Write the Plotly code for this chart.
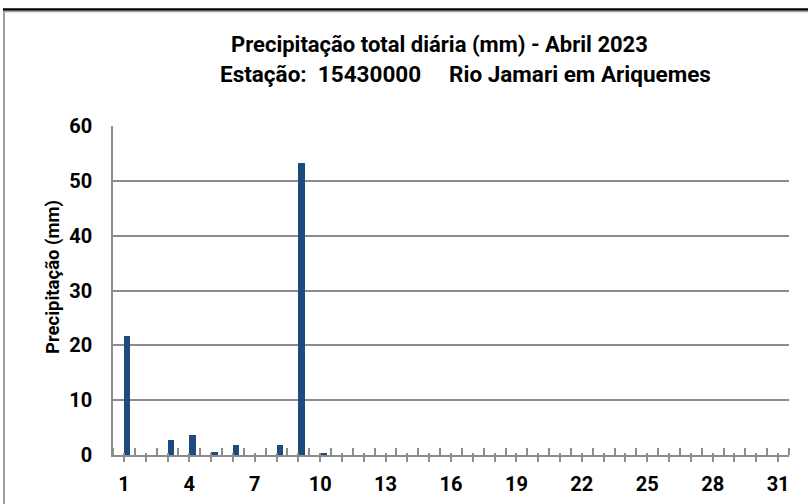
import plotly.graph_objects as go

# ---- data ----
days = list(range(1, 32))
precip_mm = [21.7, 0.0, 2.8, 3.6, 0.6, 1.8, 0.0, 1.8, 53.3, 0.2,
             0, 0, 0, 0, 0, 0, 0, 0, 0, 0,
             0, 0, 0, 0, 0, 0, 0, 0, 0, 0, 0]
x_tick_labels = [str(d) if (d - 1) % 3 == 0 else "" for d in days]
y_ticks = [0, 10, 20, 30, 40, 50, 60]

title_line1 = "Precipitação total diária (mm) - Abril 2023"
title_line2 = "Estação:&nbsp;&nbsp;15430000&nbsp;&nbsp;&nbsp;&nbsp;&nbsp;Rio Jamari em Ariquemes"
y_title = "Precipitação (mm)"

# ---- geometry (pixels) ----
W, H = 808, 504
L, R, T, B = 113, 19, 126, 49
PW, PH = W - L - R, H - T - B

def px_x(x):
    return (x - L) / PW

def px_y(y):
    return (H - B - y) / PH

FONT = "Roboto, 'Liberation Sans', Arial, sans-serif"
GRID = "#8c8c8c"
BAR = "#1F4A7E"

fig = go.Figure()
fig.add_trace(go.Bar(
    x=days, y=precip_mm, offset=0, width=0.3,
    marker=dict(color=BAR, line=dict(width=0)),
    showlegend=False,
))
# overlay axis to make the major x ticks cross the axis line
fig.add_trace(go.Scatter(x=[days[0]], y=[0], xaxis="x2", mode="markers",
                         marker=dict(opacity=0), showlegend=False, hoverinfo="skip"))

fig.update_layout(
    width=W, height=H,
    margin=dict(l=L, r=R, t=T, b=B, autoexpand=False),
    paper_bgcolor="white", plot_bgcolor="white",
    font=dict(family=FONT, color="black"),
    bargap=0,
    xaxis=dict(
        range=[0.5, 31.5], tickmode="array", tickvals=days, ticktext=x_tick_labels,
        ticks="outside", ticklen=5, tickwidth=1.5, tickcolor=GRID,
        showline=True, linecolor=GRID, linewidth=1.5,
        showgrid=False, zeroline=False,
        tickfont=dict(size=20, weight="bold", family=FONT),
        minor=dict(tickmode="linear", tick0=0.5, dtick=1, ticks="inside",
                   ticklen=7, tickwidth=1.5, tickcolor=GRID, showgrid=False),
        ticklabelstandoff=5,
        fixedrange=True,
    ),
    xaxis2=dict(
        range=[0.5, 31.5], overlaying="x", anchor="y", side="bottom",
        tickmode="array", tickvals=days, ticktext=[""] * len(days),
        ticks="inside", ticklen=2, tickwidth=1.5, tickcolor=GRID,
        showline=False, showgrid=False, zeroline=False, showticklabels=False,
    ),
    yaxis=dict(
        range=[0, 60], tickmode="array", tickvals=y_ticks,
        ticks="", showline=True, linecolor=GRID, linewidth=1.5,
        showgrid=True, gridcolor=GRID, gridwidth=1.5, zeroline=False,
        tickfont=dict(size=20, weight="bold", family=FONT),
        ticklabelstandoff=15,
        fixedrange=True,
    ),
    annotations=[
        dict(text=title_line1, x=px_x(439.5), y=px_y(44), xref="paper", yref="paper",
             xanchor="center", yanchor="middle", showarrow=False,
             font=dict(size=22, weight="bold", family=FONT)),
        dict(text=title_line2, x=px_x(465), y=px_y(73.5), xref="paper", yref="paper",
             xanchor="center", yanchor="middle", showarrow=False,
             font=dict(size=22.5, weight="bold", family=FONT)),
        dict(text=y_title, x=px_x(53), y=px_y(277), xref="paper", yref="paper",
             xanchor="center", yanchor="middle", showarrow=False, textangle=-90,
             font=dict(size=18.5, weight="bold", family=FONT)),
    ],
    shapes=[
        dict(type="line", xref="paper", yref="paper", x0=px_x(3), x1=px_x(808),
             y0=px_y(9.5), y1=px_y(9.5), line=dict(color="black", width=2.5)),
        dict(type="line", xref="paper", yref="paper", x0=px_x(4), x1=px_x(808),
             y0=px_y(11.5), y1=px_y(11.5), line=dict(color="#a0a0a0", width=1.5)),
        dict(type="line", xref="paper", yref="paper", x0=px_x(4), x1=px_x(4),
             y0=px_y(11), y1=px_y(504), line=dict(color="#a0a0a0", width=2)),
    ],
)

fig.write_html("out.html", config={"displayModeBar": False},
               post_script="document.body.style.margin='0';document.body.style.padding='0';")
